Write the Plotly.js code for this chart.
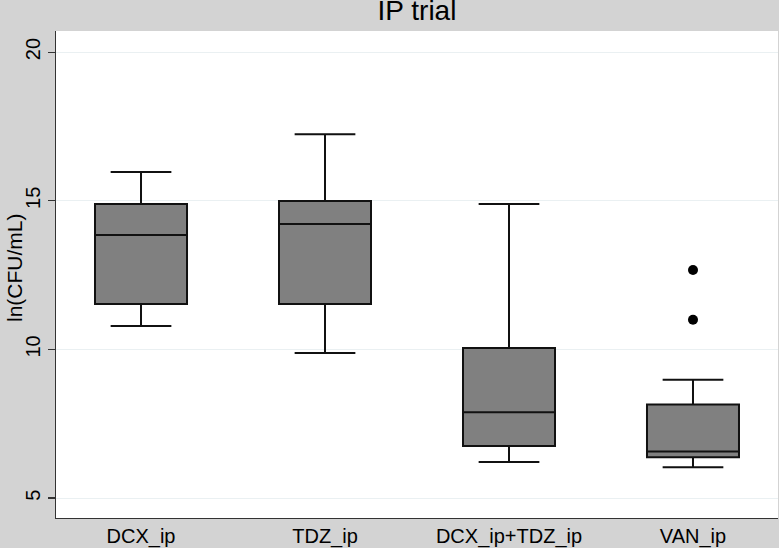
<!DOCTYPE html>
<html><head><meta charset="utf-8">
<script src="https://cdn.plot.ly/plotly-3.0.1.min.js"></script>
<style>html,body{margin:0;padding:0;background:#d3d3d3;}#chart{width:779px;height:548px;}</style>
</head><body><div id="chart"></div>
<script>
const categories = ['DCX_ip', 'TDZ_ip', 'DCX_ip+TDZ_ip', 'VAN_ip'];
const lowerWhisker = [10.79, 9.88, 6.21, 6.04];
const q1Values = [11.53, 11.53, 6.75, 6.37];
const medianValues = [13.85, 14.22, 7.89, 6.57];
const q3Values = [14.89, 14.99, 10.05, 8.15];
const upperWhisker = [15.97, 17.24, 14.89, 8.98];
const outlierCategory = ['VAN_ip', 'VAN_ip'];
const outlierValues = [12.67, 11.0];
const yTicks = [5, 10, 15, 20];

const font = 'Liberation Sans, Arial, Helvetica, sans-serif';
const traces = [
  {
    type: 'box',
    x: categories,
    q1: q1Values,
    median: medianValues,
    q3: q3Values,
    lowerfence: lowerWhisker,
    upperfence: upperWhisker,
    fillcolor: '#808080',
    line: {color: '#111111', width: 2},
    width: 0.5,
    whiskerwidth: 0.66,
    boxpoints: false,
    hoverinfo: 'skip',
    showlegend: false
  },
  {
    type: 'scatter',
    mode: 'markers',
    x: outlierCategory,
    y: outlierValues,
    marker: {color: '#000000', size: 10},
    hoverinfo: 'skip',
    showlegend: false
  }
];

const layout = {
  width: 779, height: 548,
  margin: {l: 56, r: 1, t: 31, b: 30},
  paper_bgcolor: '#d3d3d3',
  plot_bgcolor: '#ffffff',
  title: {
    text: 'IP trial',
    font: {family: font, size: 28, color: '#000000'},
    x: 0.5, xanchor: 'center', xref: 'paper',
    y: 1 - 10/548, yanchor: 'middle', yref: 'container'
  },
  xaxis: {
    type: 'category',
    range: [-0.462, 3.462],
    showline: true, linecolor: '#333333', linewidth: 1.2,
    ticks: '', ticklen: 0, showgrid: false, zeroline: false,
    tickfont: {family: font, size: 20, color: '#000000'},
    ticklabelstandoff: 0,
    fixedrange: true
  },
  yaxis: {
    range: [4.33, 20.71],
    tickvals: yTicks,
    ticktext: yTicks.map(String),
    tickangle: -90,
    ticks: 'outside', ticklen: 7, tickcolor: '#333333', tickwidth: 1.2,
    showline: true, linecolor: '#333333', linewidth: 1.2,
    showgrid: true, gridcolor: '#eaf0f2', gridwidth: 1,
    zeroline: false,
    tickfont: {family: font, size: 20, color: '#000000'},
    fixedrange: true
  },
  annotations: [{
    text: 'ln(CFU/mL)',
    textangle: -90,
    font: {family: font, size: 21, color: '#000000'},
    xref: 'paper', yref: 'paper',
    x: (14 - 56) / 722, y: (518 - 268) / 487,
    xanchor: 'center', yanchor: 'middle',
    showarrow: false
  }]
};

Plotly.newPlot('chart', traces, layout, {displayModeBar: false, staticPlot: true});
</script></body></html>
